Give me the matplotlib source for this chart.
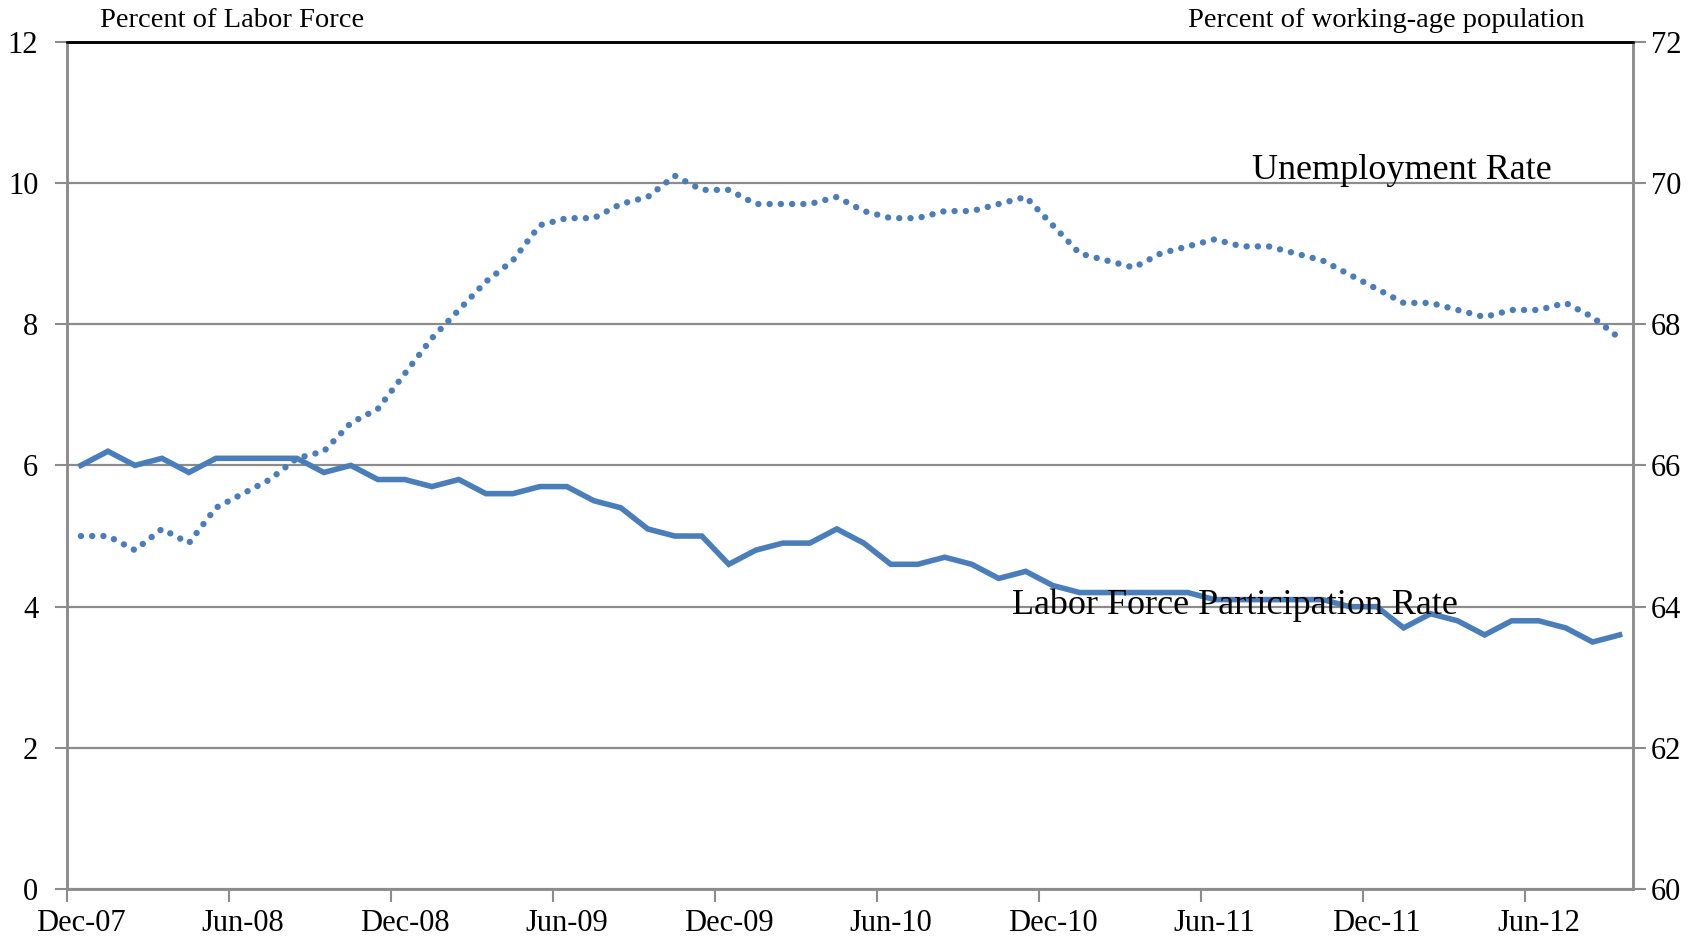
import matplotlib.pyplot as plt
from matplotlib.ticker import FixedLocator

plt.rcParams['font.family'] = ['Liberation Serif', 'DejaVu Serif']

# monthly, Dec-07 .. Sep-12
tick_labels = ['Dec-07', 'Jun-08', 'Dec-08', 'Jun-09', 'Dec-09',
               'Jun-10', 'Dec-10', 'Jun-11', 'Dec-11', 'Jun-12']

unemployment = [5.0, 5.0, 4.8, 5.1, 4.9, 5.4, 5.6, 5.8, 6.1, 6.2,
                6.6, 6.8, 7.3, 7.8, 8.2, 8.6, 8.9, 9.4, 9.5, 9.5,
                9.7, 9.8, 10.1, 9.9, 9.9, 9.7, 9.7, 9.7, 9.8, 9.6,
                9.5, 9.5, 9.6, 9.6, 9.7, 9.8, 9.4, 9.0, 8.9, 8.8,
                9.0, 9.1, 9.2, 9.1, 9.1, 9.0, 8.9, 8.7, 8.5, 8.3,
                8.3, 8.2, 8.1, 8.2, 8.2, 8.3, 8.1, 7.8]

participation = [66.0, 66.2, 66.0, 66.1, 65.9, 66.1, 66.1, 66.1, 66.1, 65.9,
                 66.0, 65.8, 65.8, 65.7, 65.8, 65.6, 65.6, 65.7, 65.7, 65.5,
                 65.4, 65.1, 65.0, 65.0, 64.6, 64.8, 64.9, 64.9, 65.1, 64.9,
                 64.6, 64.6, 64.7, 64.6, 64.4, 64.5, 64.3, 64.2, 64.2, 64.2,
                 64.2, 64.2, 64.1, 64.1, 64.1, 64.1, 64.1, 64.0, 64.0, 63.7,
                 63.9, 63.8, 63.6, 63.8, 63.8, 63.7, 63.5, 63.6]

months = list(range(len(unemployment)))
blue = '#4a7ebb'
grid_c = '#8c8c8c'

fig = plt.figure(figsize=(17.07, 9.44), dpi=100)
ax = fig.add_axes([0.0395, 0.058, 0.9172, 0.898])
ax2 = ax.twinx()

ax.plot(months, unemployment, color=blue, lw=4.6,
        linestyle=(0, (0.01, 1.75)), dash_capstyle='round')
ax2.plot(months, participation, color=blue, lw=4, solid_joinstyle='miter')

ax.set_xlim(-0.5, len(months) - 0.5)
ax.set_ylim(0, 12)
ax2.set_ylim(60, 72)
ax.set_yticks(range(0, 13, 2))
ax2.set_yticks(range(60, 73, 2))

ax.set_xticks(range(0, len(months), 6)[:len(tick_labels)])
ax.set_xticklabels(tick_labels)
ax.xaxis.set_minor_locator(FixedLocator([i - 0.5 for i in range(0, 58, 6)]))
ax.tick_params(axis='x', which='major', length=0, pad=14, labelsize=22)
ax.tick_params(axis='x', which='minor', length=9, width=1.5, color=grid_c)
ax.tick_params(axis='y', length=9, width=1.5, color=grid_c, pad=12, labelsize=22)
ax2.tick_params(axis='y', length=9, width=1.5, color=grid_c, pad=4, labelsize=22)

ax.grid(axis='y', color=grid_c, lw=1.6)
ax.set_axisbelow(True)

for a in (ax, ax2):
    for s in ('left', 'right', 'bottom'):
        a.spines[s].set_color(grid_c)
        a.spines[s].set_linewidth(1.8)
    a.spines['top'].set_color('black')
    a.spines['top'].set_linewidth(1.8)

ax.text(0.021, 1.01, 'Percent of Labor Force', transform=ax.transAxes,
        fontsize=20.5, ha='left', va='bottom')
ax2.text(0.969, 1.01, 'Percent of working-age population',
         transform=ax.transAxes, fontsize=20.5, ha='right', va='bottom')

ax.text(43.4, 10.05, 'Unemployment Rate', fontsize=26, va='baseline')
ax2.text(34.5, 63.9, 'Labor Force Participation Rate', fontsize=26,
         va='baseline', zorder=5)

fig.savefig('out.png', dpi=100)
